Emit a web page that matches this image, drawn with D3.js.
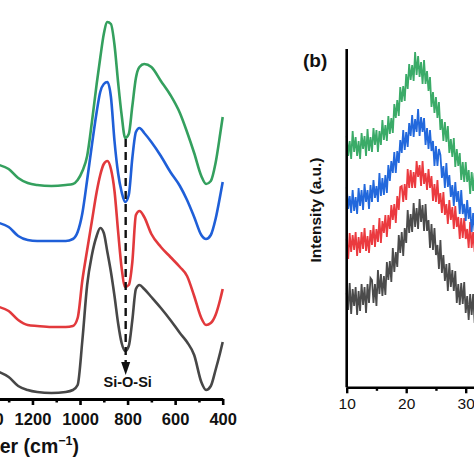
<!DOCTYPE html>
<html><head><meta charset="utf-8">
<script src="https://cdn.jsdelivr.net/npm/d3@7/dist/d3.min.js"></script>
<style>html,body{margin:0;padding:0;background:#fff;overflow:hidden}svg{display:block}</style>
</head><body>
<script>
// ---------- Panel (a): FTIR ----------
const ftirWave = [1340,1300,1260,1220,1180,1120,1060,1030,1010,990,970,950,930,915,900,885,870,855,840,825,810,795,780,765,750,730,700,660,620,580,550,520,490,470,450,430,410,400];
const ftirGreen = [235,231,222,217,215,214,215,216,220,229,244,278,316,342,366,378,376,355,318,285,262,266,294,322,333,336,333,319,305,287,268,247,224,216,219,237,267,283];
const ftirBlue  = [177,173,164,160,159,159,159,161,168,187,220,255,288,308,316,318,303,259,227,208,198,205,242,268,272,267,258,244,228,214,200,183,165,161,165,181,205,218];
const ftirRed   = [93,89,80,75,74,73,73,74,82,120,150,179,208,225,236,239,231,209,169,132,113,115,138,185,189,183,166,153,143,133,124,104,82,75,77,85,101,111];
const ftirBlack = [28,23,14,10,8,7,8,10,15,60,115,145,164,172,167,148,128,104,77,57,49,54,80,111,115,111,103,92,80,67,58,45,18,10,14,30,48,58];
const ftirMajorTicks = [1400,1200,1000,800,600,400];
const ftirMinorTicks = [1500,1300,1100,900,700,500];
const annotWave = 808, annotTop = 261, annotTip = 25, annotLabel = "Si-O-Si";

// ---------- Panel (b): XRD (2θ from 10 to 31.5, step 0.25) ----------
const xrdGreen = [251,231,246,228,256,235,250,231,246,228,254,238,251,231,258,236,250,235,259,242,257,235,256,242,267,247,262,246,271,253,269,254,283,269,287,271,300,285,301,286,313,298,323,307,322,306,335,312,331,310,325,303,327,303,316,296,310,280,295,274,290,269,285,257,268,246,265,245,261,234,248,230,249,220,238,221,234,207,225,205,225,205,217,193,215,196,214];
const xrdBlue = [200,178,191,174,197,176,190,173,199,181,197,177,203,185,197,178,202,185,207,189,201,185,214,191,209,192,212,194,222,206,226,214,235,214,236,224,247,234,257,237,255,240,264,251,272,250,268,255,278,251,270,255,269,242,259,238,257,236,246,221,241,221,238,232,209,221,199,224,200,212,190,202,181,205,185,196,173,197,173,183,166,187,168,180,155,174,156];
const xrdRed = [148,128,154,135,152,137,155,131,150,134,155,138,159,136,151,134,157,142,162,140,158,145,169,144,166,154,172,150,172,158,182,167,183,164,191,177,200,201,185,203,187,218,199,217,199,215,199,226,210,222,201,226,203,214,197,218,199,211,186,203,185,207,183,194,174,195,172,183,163,187,167,180,158,181,160,170,148,169,149,169,148,158,139,165,139,155,135];
const xrdBlack = [94,77,104,73,98,81,100,72,96,76,103,82,100,74,103,84,109,107,84,103,81,117,93,113,91,111,92,125,107,126,105,139,115,135,120,152,134,155,131,159,144,177,154,173,155,184,160,179,158,188,165,182,156,183,156,167,139,163,137,159,132,142,118,147,114,132,106,123,96,124,100,117,96,116,84,103,82,104,83,105,74,91,67,93,72,93,64];
const xrdTheta = d3.range(10, 31.5001, 0.25);
const xrdMajorTicks = [10,20,30,40];
const xrdMinorTicks = [15,25,35,45];

const W = 474, H = 474;
const FONT = '"Liberation Sans", Arial, Helvetica, sans-serif';
const svg = d3.select('body').append('svg')
  .attr('width', W).attr('height', H)
  .style('font-family', FONT);

// ===== Panel (a) =====
const xA = d3.scaleLinear().domain([1500, 400]).range([222.7 - 1100 * 0.2378, 222.7]);
const yA = d3.scaleLinear().domain([0, 400]).range([400, 0]);
const axisYA = 399;

const lineA = d3.line().x((d, i) => xA(ftirWave[i])).y(d => yA(d)).curve(d3.curveMonotoneX);
const ftirSeries = [
  {vals: ftirBlack, color: '#474747'},
  {vals: ftirRed, color: '#e2393c'},
  {vals: ftirBlue, color: '#1f5fd8'},
  {vals: ftirGreen, color: '#34a05e'}
];
svg.append('g').selectAll('path').data(ftirSeries).join('path')
  .attr('d', d => lineA(d.vals))
  .attr('fill', 'none').attr('stroke', d => d.color)
  .attr('stroke-width', 2.6).attr('stroke-linejoin', 'round');

// dashed annotation
svg.append('line')
  .attr('x1', xA(annotWave)).attr('x2', xA(annotWave))
  .attr('y1', yA(annotTop)).attr('y2', yA(annotTip) - 10)
  .attr('stroke', '#111').attr('stroke-width', 2.4).attr('stroke-dasharray', '8,5');
const ax = xA(annotWave), ay = yA(annotTip);
svg.append('path')
  .attr('d', `M${ax - 4.5},${ay - 13}L${ax + 4.5},${ay - 13}L${ax},${ay}Z`)
  .attr('fill', '#111');
svg.append('text').attr('x', ax + 2).attr('y', ay + 12)
  .attr('text-anchor', 'middle').attr('font-weight', 'bold').attr('font-size', 14.5)
  .attr('fill', '#111').text(annotLabel);

// x axis (a)
const gA = svg.append('g').attr('transform', `translate(0,${axisYA})`);
gA.call(d3.axisBottom(xA).tickValues(ftirMajorTicks).tickSize(6).tickSizeOuter(0).tickPadding(8).tickFormat(d3.format('d')));
gA.append('g').call(d3.axisBottom(xA).tickValues(ftirMinorTicks).tickSize(3.5).tickSizeOuter(0).tickFormat(''))
  .select('.domain').remove();
gA.selectAll('.domain').attr('stroke', '#000').attr('stroke-width', 2.8);
gA.selectAll('.tick line').attr('stroke', '#000').attr('stroke-width', 2.6);
gA.selectAll('.tick text').attr('font-size', 16.5).attr('font-weight', 'bold')
  .attr('font-family', FONT).attr('fill', '#111');

// axis title (a)
const tA = svg.append('text').attr('x', 79).attr('y', 453).attr('text-anchor', 'end')
  .attr('font-weight', 'bold').attr('font-size', 19.5).attr('fill', '#111');
tA.append('tspan').text('Wavenumber (cm');
tA.append('tspan').attr('dy', -8).attr('font-size', 12.5).text('\u22121');
tA.append('tspan').attr('dy', 8).text(')');

// ===== Panel (b) =====
const xB = d3.scaleLinear().domain([10, 50]).range([346.7, 346.7 + 40 * 5.95]);
const yB = d3.scaleLinear().domain([0, 340]).range([387, 47]);
const axisYB = 387.3;

const lineB = d3.line().x((d, i) => xB(xrdTheta[i])).y(d => yB(d));
const xrdSeries = [
  {vals: xrdBlack, color: '#4b4b4b'},
  {vals: xrdRed, color: '#eb3a3f'},
  {vals: xrdBlue, color: '#2268dc'},
  {vals: xrdGreen, color: '#3bab68'}
];
svg.append('g').selectAll('path').data(xrdSeries).join('path')
  .attr('d', d => lineB(d.vals))
  .attr('fill', 'none').attr('stroke', d => d.color)
  .attr('stroke-width', 1.8).attr('stroke-linejoin', 'miter');

// y axis line (b)
svg.append('line').attr('x1', xB(10)).attr('x2', xB(10))
  .attr('y1', 49).attr('y2', axisYB).attr('stroke', '#000').attr('stroke-width', 2.6);

// x axis (b)
const gB = svg.append('g').attr('transform', `translate(0,${axisYB})`);
gB.call(d3.axisBottom(xB).tickValues(xrdMajorTicks).tickSize(6).tickSizeOuter(0).tickPadding(5).tickFormat(d3.format('d')));
gB.append('g').call(d3.axisBottom(xB).tickValues(xrdMinorTicks).tickSize(3.5).tickSizeOuter(0).tickFormat(''))
  .select('.domain').remove();
gB.selectAll('.domain').attr('stroke', '#000').attr('stroke-width', 2.6);
gB.selectAll('.tick line').attr('stroke', '#000').attr('stroke-width', 2.4);
gB.selectAll('.tick text').attr('font-size', 15.5).attr('font-family', FONT).attr('fill', '#111');

// labels (b)
svg.append('text').attr('x', 303).attr('y', 67).attr('font-weight', 'bold')
  .attr('font-size', 19).attr('fill', '#111').text('(b)');
svg.append('text').attr('transform', 'translate(321,210) rotate(-90)')
  .attr('text-anchor', 'middle').attr('font-weight', 'bold').attr('font-size', 15.5)
  .attr('fill', '#111').text('Intensity (a.u.)');
</script>
</body></html>
